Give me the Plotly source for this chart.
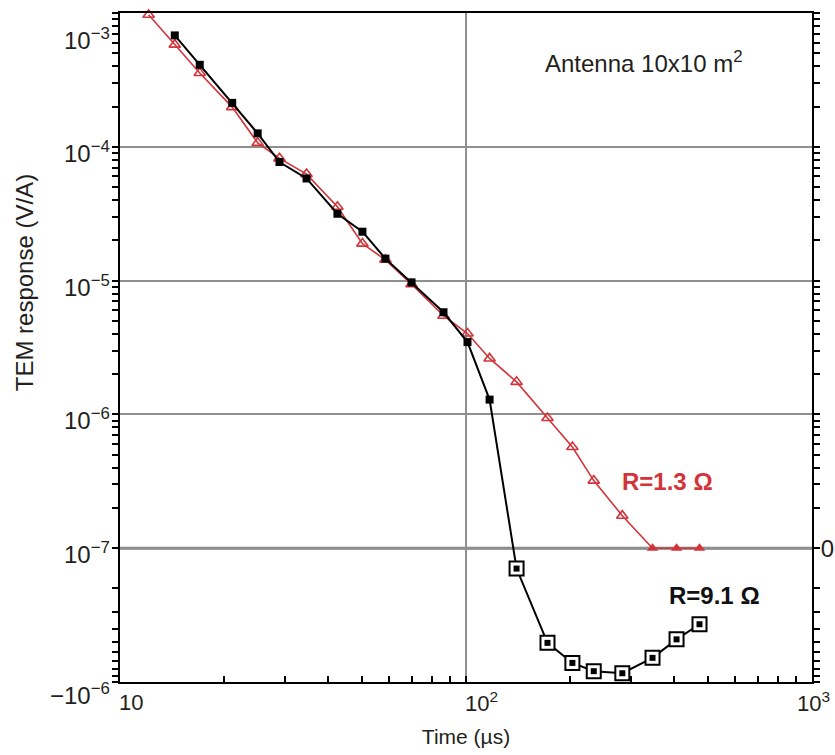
import numpy as np
import plotly.graph_objects as go

# Gate times (µs)
time_us = [12.1, 14.4, 17.0, 21.1, 25.0, 28.9, 34.6, 42.5, 50.2, 58.5, 69.6,
           86.1, 101, 117, 140, 172, 203, 234, 283, 346, 406, 473]

# TEM response (V/A), loop resistance 1.3 ohm (0 = below noise floor)
resp_r13 = [9.7e-4, 5.8e-4, 3.56e-4, 1.98e-4, 1.07e-4, 8.2e-5, 6.25e-5, 3.56e-5,
            1.89e-5, 1.43e-5, 9.4e-6, 5.46e-6, 4.02e-6, 2.62e-6, 1.75e-6, 9.4e-7,
            5.7e-7, 3.2e-7, 1.75e-7, 0, 0, 0]

# TEM response (V/A), loop resistance 9.1 ohm (sign reversal at late times)
time_r91 = time_us[1:]
resp_r91 = [6.8e-4, 4.1e-4, 2.13e-4, 1.26e-4, 7.7e-5, 5.8e-5, 3.16e-5, 2.32e-5,
            1.46e-5, 9.7e-6, 5.8e-6, 3.47e-6, 1.29e-6, -1.42e-7, -5.1e-7, -7.2e-7,
            -8.3e-7, -8.6e-7, -6.6e-7, -4.8e-7, -3.7e-7]

x_ticks = [10, 100, 1000]
x_ticktext = ["10", "10<sup>2</sup>", "10<sup>3</sup>"]
y_ticks = [-8, -7, -6, -5, -4, -3]
y_ticktext = ["\u221210<sup>\u22126</sup>", "10<sup>\u22127</sup>", "10<sup>\u22126</sup>",
              "10<sup>\u22125</sup>", "10<sup>\u22124</sup>", "10<sup>\u22123</sup>"]

FLOOR = 1e-7


def symlog(v):
    """Signed log axis: log10 above the floor, mirrored log10 of |v| below it."""
    v = np.asarray(v, dtype=float)
    a = np.log10(np.maximum(np.abs(v), FLOOR))
    return np.where(v >= 0, a, 2 * np.log10(FLOOR) - a)


RED = "#d2343a"
INK = "#231f20"
FONT = "Liberation Sans, Arial, Helvetica, sans-serif"
FS = 24

y13 = symlog(resp_r13)
y91 = symlog(resp_r91)
r13 = np.array(resp_r13)
r91 = np.array(resp_r91)
t13 = np.array(time_us)
t91 = np.array(time_r91)

fig = go.Figure()

# R = 1.3 ohm: open triangles, filled where the signal sits on the floor
fig.add_trace(go.Scatter(x=t13, y=y13, mode="lines", line=dict(color=RED, width=1.6),
                         hoverinfo="skip", cliponaxis=False))
m = r13 > FLOOR
fig.add_trace(go.Scatter(x=t13[m], y=y13[m], mode="markers", cliponaxis=False,
                         marker=dict(symbol="triangle-up-open", size=10, color=RED,
                                     line=dict(color=RED, width=1.6))))
fig.add_trace(go.Scatter(x=t13[~m], y=y13[~m], mode="markers", cliponaxis=False,
                         marker=dict(symbol="triangle-up", size=10, color=RED)))

# R = 9.1 ohm
fig.add_trace(go.Scatter(x=t91, y=y91, mode="lines", line=dict(color="black", width=2),
                         hoverinfo="skip", cliponaxis=False))
neg = r91 < 0
fig.add_trace(go.Scatter(x=t91[neg], y=y91[neg], mode="markers", cliponaxis=False,
                         marker=dict(symbol="square", size=14, color="white",
                                     line=dict(color="black", width=2))))
fig.add_trace(go.Scatter(x=t91[~neg], y=y91[~neg], mode="markers", cliponaxis=False,
                         marker=dict(symbol="square", size=8, color="black")))
fig.add_trace(go.Scatter(x=t91[neg], y=y91[neg], mode="markers", cliponaxis=False,
                         marker=dict(symbol="square", size=6, color="black")))

# placeholder so the right-hand axis is drawn
fig.add_trace(go.Scatter(x=[None], y=[None], yaxis="y2", showlegend=False))

x_minor = [k * 10 ** n for n in (1, 2) for k in range(2, 10)]
y_minor_pos = [n + np.log10(k) for n in range(-7, -3) for k in range(2, 10)]
y_minor_neg = [-7 - np.log10(k) for k in range(2, 10)]
y_minor = y_minor_neg + y_minor_pos

tick_common = dict(tickwidth=2, tickcolor="black", ticklen=6)

# tick labels placed as text beside their ticks
annotations = []
x_label_pos = [("left", -3), ("left", -3), ("right", 20)]
for val, txt, (anchor, shift) in zip(x_ticks, x_ticktext, x_label_pos):
    annotations.append(dict(text=txt, xref="x", yref="paper", x=np.log10(val), y=0,
                            xanchor=anchor, yanchor="middle", xshift=shift, yshift=-20,
                            showarrow=False, font=dict(size=22)))
y_label_shift = {-8: -12, -3: -26}
for val, txt in zip(y_ticks, y_ticktext):
    annotations.append(dict(text=txt, xref="paper", yref="y", x=0, y=val,
                            xanchor="right", yanchor="middle", xshift=-8,
                            yshift=y_label_shift.get(val, -5), showarrow=False))

annotations += [
    dict(text="TEM response (V/A)", textangle=-90, xref="paper", yref="paper",
         x=0, y=0.596, xshift=-96, xanchor="center", yanchor="middle", showarrow=False),
    dict(text="Antenna 10x10 m<sup>2</sup>", xref="paper", yref="paper",
         x=0.6116, y=0.9268, xanchor="left", yanchor="middle", showarrow=False),
    dict(text="<b>R=1.3 \u03a9</b>", xref="paper", yref="paper", x=0.7227, y=0.299,
         xanchor="left", yanchor="middle", showarrow=False, font=dict(color=RED)),
    dict(text="<b>R=9.1 \u03a9</b>", xref="paper", yref="paper", x=0.790, y=0.130,
         xanchor="left", yanchor="middle", showarrow=False, font=dict(color="#111")),
]

fig.update_layout(
    width=835, height=755,
    margin=dict(l=120, r=23, t=13, b=73),
    plot_bgcolor="white", paper_bgcolor="white",
    showlegend=False,
    font=dict(family=FONT, size=FS, color=INK),
    xaxis=dict(
        type="log", range=[1, 3], automargin=False,
        tickvals=x_ticks, showticklabels=False,
        ticks="inside", **tick_common,
        showline=True, linecolor="black", linewidth=2, mirror=True,
        showgrid=True, gridcolor="#8f8f8f", gridwidth=1.5, zeroline=False,
        minor=dict(tickvals=x_minor, ticks="inside", ticklen=6, tickwidth=2,
                   tickcolor="black", showgrid=False),
        title=dict(text="Time (µs)", font=dict(size=21), standoff=46),
    ),
    yaxis=dict(
        range=[-8, -3.0], automargin=False,
        tickvals=y_ticks, showticklabels=False,
        ticks="outside", **tick_common,
        showline=True, linecolor="black", linewidth=2, mirror=False,
        showgrid=True, gridcolor="#8f8f8f", gridwidth=1.5, zeroline=False,
        minor=dict(tickvals=y_minor, ticks="outside", ticklen=6, tickwidth=2,
                   tickcolor="black", showgrid=False),
    ),
    yaxis2=dict(
        overlaying="y", side="right", range=[-8, -3.0], automargin=False,
        tickvals=[-7], ticktext=["0"],
        ticks="outside", **tick_common,
        ticklabelstandoff=-4, ticklabeloverflow="allow",
        showline=True, linecolor="black", linewidth=2,
        showgrid=False, zeroline=False,
        minor=dict(tickvals=[-8, -6, -5, -4, -3] + y_minor, ticks="outside", ticklen=6,
                   tickwidth=2, tickcolor="black", showgrid=False),
    ),
    shapes=[dict(type="line", xref="paper", x0=0, x1=1, yref="y", y0=-7, y1=-7,
                 line=dict(color="#7a7a7a", width=3), layer="below")],
    annotations=annotations,
)

fig.write_html("out.html")
